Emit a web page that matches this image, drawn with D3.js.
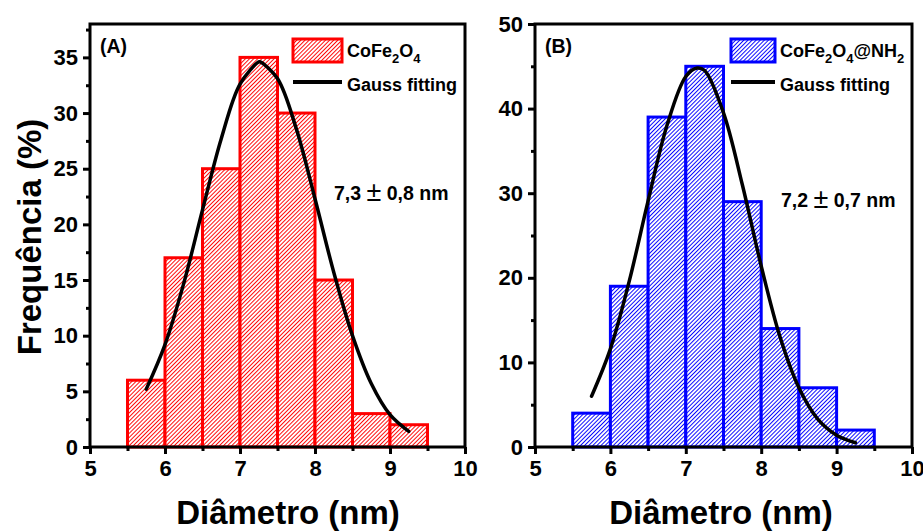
<!DOCTYPE html>
<html>
<head>
<meta charset="utf-8">
<script src="https://cdn.jsdelivr.net/npm/d3@7"></script>
<style>
  html, body { margin: 0; padding: 0; background: #fff; }
  svg { display: block; font-family: "Liberation Sans", Arial, sans-serif; font-weight: bold; }
</style>
</head>
<body>
<svg id="chart" width="923" height="532"></svg>
<script>
// Histogram bins (nm), lower edges, width 0.5
const binStarts = [5.5, 6.0, 6.5, 7.0, 7.5, 8.0, 8.5, 9.0];
const binWidth = 0.5;

// Panel A: CoFe2O4 frequencies (%)
const freqA = [6, 17, 25, 35, 30, 15, 3, 2];
// Panel B: CoFe2O4@NH2 frequencies (%)
const freqB = [4, 19, 39, 45, 29, 14, 7, 2];

// Gauss fitting curves, sampled every 0.25 nm
const fitX = [5.75, 6.0, 6.25, 6.5, 6.75, 7.0, 7.25, 7.5, 7.75, 8.0, 8.25, 8.5, 8.75, 9.0, 9.25];
const fitA = [5.2, 9.2, 14.7, 21.3, 27.7, 32.6, 34.6, 33.1, 28.6, 22.3, 15.7, 10.0, 5.7, 2.9, 1.4];
const fitB = [6.0, 11.6, 19.6, 29.1, 38.0, 43.8, 44.5, 39.5, 31.0, 21.4, 13.0, 7.0, 3.3, 1.4, 0.5];
const peakA = { x: 7.27, y: 34.6 };
const peakB = { x: 7.15, y: 44.8 };

// Axis ticks
const xTicks = [5, 6, 7, 8, 9, 10];
const xMinor = [5.5, 6.5, 7.5, 8.5, 9.5];
const yTicksA = [0, 5, 10, 15, 20, 25, 30, 35];
const yMinorA = [2.5, 7.5, 12.5, 17.5, 22.5, 27.5, 32.5, 37.5];
const yTicksB = [0, 10, 20, 30, 40, 50];
const yMinorB = [5, 15, 25, 35, 45];

const svg = d3.select("#chart");
const defs = svg.append("defs");

function hatch(id, color) {
  const s = 2.9;
  const p = defs.append("pattern")
    .attr("id", id)
    .attr("patternUnits", "userSpaceOnUse")
    .attr("width", s).attr("height", s)
    .attr("patternTransform", "rotate(45)");
  p.append("rect").attr("width", s).attr("height", s).attr("fill", "#fff");
  p.append("line").attr("x1", 0.5).attr("y1", 0).attr("x2", 0.5).attr("y2", s)
    .attr("stroke", color).attr("stroke-width", 0.95);
}
hatch("hatchRed", "#ff0000");
hatch("hatchBlue", "#0000ff");

function styleTicks(sel, size) {
  sel.select(".domain").remove();
  sel.selectAll("line").attr("stroke", "#000").attr("stroke-width", 3);
  sel.selectAll("text").attr("font-size", size)
    .attr("font-family", "Liberation Sans, Arial, sans-serif")
    .attr("font-weight", "bold").attr("fill", "#000");
}

function panel(cfg) {
  const g = svg.append("g");
  const x = d3.scaleLinear().domain([5, 10]).range([cfg.left, cfg.right]);
  const y = d3.scaleLinear().domain([0, cfg.yMax]).range([cfg.bottom, cfg.top]);

  // bars
  g.append("g").selectAll("rect").data(cfg.freq).join("rect")
    .attr("x", (d, i) => x(binStarts[i]))
    .attr("width", (d, i) => x(binStarts[i] + binWidth) - x(binStarts[i]))
    .attr("y", d => y(d))
    .attr("height", d => y(0) - y(d))
    .attr("fill", `url(#${cfg.pattern})`)
    .attr("stroke", cfg.color)
    .attr("stroke-width", 3);

  // fitted curve
  const line = d3.line().x(d => x(d[0])).y(d => y(d[1])).curve(d3.curveCatmullRom.alpha(0.5));
  const pts = fitX.map((v, i) => [v, cfg.fit[i]]);
  pts.push([cfg.peak.x, cfg.peak.y]);
  pts.sort((a, b) => a[0] - b[0]);
  g.append("path").attr("d", line(pts))
    .attr("fill", "none").attr("stroke", "#000").attr("stroke-width", 3.5)
    .attr("stroke-linecap", "round");

  // frame
  g.append("rect")
    .attr("x", cfg.left).attr("y", cfg.top)
    .attr("width", cfg.right - cfg.left).attr("height", cfg.bottom - cfg.top)
    .attr("fill", "none").attr("stroke", "#000").attr("stroke-width", 3);

  // x axis
  styleTicks(g.append("g").attr("transform", `translate(0,${cfg.bottom})`)
    .call(d3.axisBottom(x).tickValues(xTicks).tickSize(7).tickPadding(6).tickFormat(d3.format("d"))), 22);
  styleTicks(g.append("g").attr("transform", `translate(0,${cfg.bottom})`)
    .call(d3.axisBottom(x).tickValues(xMinor).tickSize(4).tickFormat("")), 22);

  // y axis
  styleTicks(g.append("g").attr("transform", `translate(${cfg.left},0)`)
    .call(d3.axisLeft(y).tickValues(cfg.yTicks).tickSize(7).tickPadding(5).tickFormat(d3.format("d"))), 22);
  styleTicks(g.append("g").attr("transform", `translate(${cfg.left},0)`)
    .call(d3.axisLeft(y).tickValues(cfg.yMinor).tickSize(4).tickFormat("")), 22);

  // x title
  g.append("text").attr("x", cfg.titleX).attr("y", cfg.titleY)
    .attr("text-anchor", "middle").attr("font-size", 33).text("Diâmetro (nm)");

  // panel letter
  g.append("text").attr("x", cfg.left + 10).attr("y", 53)
    .attr("font-size", 19.5).text(cfg.letter);

  // legend
  const lg = g.append("g");
  lg.append("rect").attr("x", cfg.legX).attr("y", 39)
    .attr("width", cfg.legW).attr("height", 23)
    .attr("fill", `url(#${cfg.pattern})`).attr("stroke", cfg.color).attr("stroke-width", 3);
  const t = lg.append("text").attr("x", cfg.legX + cfg.legW + 5).attr("y", 57).attr("font-size", 18);
  let lowered = false;
  cfg.legendParts.forEach(p => {
    const span = t.append("tspan").text(p.t);
    if (p.sub) {
      span.attr("font-size", 13);
      if (!lowered) { span.attr("dy", 6); lowered = true; }
    } else if (lowered) {
      span.attr("dy", -6); lowered = false;
    }
  });
  lg.append("line").attr("x1", cfg.legX).attr("x2", cfg.legX + cfg.legW)
    .attr("y1", 82).attr("y2", 82).attr("stroke", "#000").attr("stroke-width", 4);
  lg.append("text").attr("x", cfg.legX + cfg.legW + 5).attr("y", 91)
    .attr("font-size", 18).text("Gauss fitting");

  // mean size annotation
  const a = g.append("text").attr("x", cfg.annX).attr("y", cfg.annY).attr("font-size", 19.5);
  a.append("tspan").text(cfg.ann[0] + " ");
  a.append("tspan").attr("font-weight", "normal").attr("font-size", 27).attr("dy", 1).text("\u00b1");
  a.append("tspan").attr("dy", -1).text(" " + cfg.ann[1]);
}

panel({
  left: 90, right: 465, top: 24, bottom: 447, yMax: 38,
  freq: freqA, fit: fitA, peak: peakA, color: "#ff0000", pattern: "hatchRed",
  yTicks: yTicksA, yMinor: yMinorA, letter: "(A)",
  titleX: 288, titleY: 524,
  legX: 293, legW: 49,
  legendParts: [{ t: "CoFe" }, { t: "2", sub: true }, { t: "O" }, { t: "4", sub: true }],
  annX: 334, annY: 200, ann: ["7,3", "0,8 nm"]
});

panel({
  left: 535, right: 912, top: 24, bottom: 447, yMax: 50,
  freq: freqB, fit: fitB, peak: peakB, color: "#0000ff", pattern: "hatchBlue",
  yTicks: yTicksB, yMinor: yMinorB, letter: "(B)",
  titleX: 721, titleY: 524,
  legX: 731, legW: 44,
  legendParts: [{ t: "CoFe" }, { t: "2", sub: true }, { t: "O" }, { t: "4", sub: true }, { t: "@NH" }, { t: "2", sub: true }],
  annX: 781, annY: 207, ann: ["7,2", "0,7 nm"]
});

// shared y title
svg.append("text")
  .attr("transform", "translate(41,237) rotate(-90)")
  .attr("text-anchor", "middle").attr("font-size", 33).text("Frequência (%)");
</script>
</body>
</html>
